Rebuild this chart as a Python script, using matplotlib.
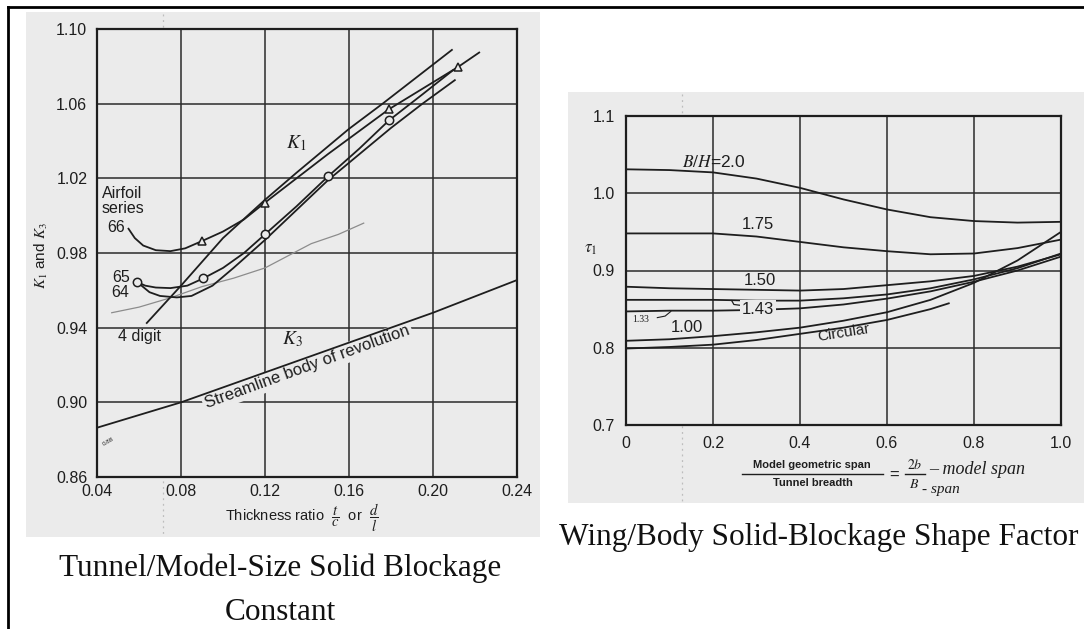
import numpy as np
import matplotlib
matplotlib.use("Agg")
import matplotlib.pyplot as plt
from matplotlib.patches import Rectangle
from matplotlib.lines import Line2D

W, H = 1084, 629
plt.rcParams['font.family'] = ['Liberation Sans', 'DejaVu Sans']
plt.rcParams['mathtext.fontset'] = 'stix'

INK = '#1e1e1e'
PAPER = '#ebebeb'

# ---------------- K1 / K3 versus thickness ratio ----------------
t66 = [0.055, 0.058, 0.062, 0.068, 0.075, 0.082, 0.090, 0.100, 0.110, 0.120, 0.135, 0.150, 0.179, 0.212, 0.222]
k66 = [0.993, 0.988, 0.984, 0.9815, 0.981, 0.9825, 0.9864, 0.9915, 0.998, 1.007, 1.020, 1.033, 1.057, 1.0797, 1.0874]
t66_mark = [0.090, 0.120, 0.179, 0.212]
k66_mark = [0.9864, 1.007, 1.057, 1.0797]

t65 = [0.059, 0.063, 0.068, 0.075, 0.083, 0.0906, 0.100, 0.110, 0.120, 0.135, 0.150, 0.165, 0.179, 0.195, 0.2096]
k65 = [0.9645, 0.9625, 0.9615, 0.9612, 0.9625, 0.9664, 0.972, 0.980, 0.990, 1.005, 1.021, 1.036, 1.051, 1.065, 1.078]
t65_mark = [0.059, 0.0906, 0.120, 0.150, 0.179]
k65_mark = [0.9645, 0.9664, 0.990, 1.021, 1.051]

t64 = [0.061, 0.065, 0.070, 0.078, 0.085, 0.095, 0.105, 0.120, 0.135, 0.150, 0.165, 0.180, 0.195, 0.2104]
k64 = [0.9627, 0.959, 0.957, 0.9562, 0.957, 0.9625, 0.972, 0.987, 1.003, 1.019, 1.033, 1.047, 1.060, 1.0726]

t4d = [0.0637, 0.080, 0.100, 0.120, 0.135, 0.160, 0.176, 0.209]
k4d = [0.9425, 0.9625, 0.988, 1.0085, 1.023, 1.0465, 1.060, 1.0888]

t_faint = [0.047, 0.060, 0.075, 0.090, 0.105, 0.120, 0.142, 0.155, 0.167]
k_faint = [0.948, 0.951, 0.956, 0.962, 0.9665, 0.972, 0.985, 0.990, 0.996]

t_k3 = [0.04, 0.08, 0.12, 0.16, 0.20, 0.24]
k3 = [0.8864, 0.900, 0.916, 0.932, 0.948, 0.9655]

xticks_left = [0.04, 0.08, 0.12, 0.16, 0.20, 0.24]
xlabels_left = ['0.04', '0.08', '0.12', '0.16', '0.20', '0.24']
yticks_left = [0.86, 0.90, 0.94, 0.98, 1.02, 1.06, 1.10]
ylabels_left = ['0.86', '0.90', '0.94', '0.98', '1.02', '1.06', '1.10']

# ---------------- tau_1 versus span ratio ----------------
span = [0.0, 0.1, 0.2, 0.3, 0.4, 0.5, 0.6, 0.7, 0.8, 0.9, 1.0]
tau_200 = [1.031, 1.030, 1.027, 1.019, 1.007, 0.992, 0.979, 0.969, 0.964, 0.962, 0.963]
tau_175 = [0.948, 0.948, 0.948, 0.944, 0.937, 0.930, 0.925, 0.921, 0.922, 0.929, 0.940]
tau_150 = [0.879, 0.877, 0.876, 0.875, 0.874, 0.876, 0.881, 0.886, 0.893, 0.905, 0.921]
tau_143 = [0.862, 0.862, 0.862, 0.861, 0.861, 0.864, 0.869, 0.877, 0.8885, 0.903, 0.922]
tau_133 = [0.847, 0.848, 0.848, 0.849, 0.851, 0.856, 0.8636, 0.873, 0.8855, 0.900, 0.918]
tau_100 = [0.809, 0.811, 0.815, 0.820, 0.826, 0.835, 0.846, 0.862, 0.884, 0.913, 0.950]
span_circ = [0.0, 0.1, 0.2, 0.3, 0.4, 0.5, 0.6, 0.7, 0.742]
tau_circ = [0.799, 0.801, 0.804, 0.810, 0.818, 0.826, 0.836, 0.850, 0.8575]

xticks_right = [0.0, 0.2, 0.4, 0.6, 0.8, 1.0]
xlabels_right = ['0', '0.2', '0.4', '0.6', '0.8', '1.0']
yticks_right = [0.7, 0.8, 0.9, 1.0, 1.1]
ylabels_right = ['0.7', '0.8', '0.9', '1.0', '1.1']


def rect(l, t, r, b):
    return [l / W, 1 - b / H, (r - l) / W, (b - t) / H]


def fx(px):
    return px / W


def fy(py):
    return 1 - py / H


fig = plt.figure(figsize=(W / 100, H / 100), dpi=100)
fig.patch.set_facecolor('white')

# scanned paper backgrounds
fig.add_artist(Rectangle((fx(26), fy(537)), (540 - 26) / W, (537 - 12) / H,
                         transform=fig.transFigure, fc=PAPER, ec='none', zorder=-10))
fig.add_artist(Rectangle((fx(568), fy(503)), (1084 - 568) / W, (503 - 92) / H,
                         transform=fig.transFigure, fc=PAPER, ec='none', zorder=-10))
# fold marks on the paper
for xp, y0, y1 in [(163, 14, 536), (682, 94, 502)]:
    fig.add_artist(Line2D([fx(xp), fx(xp)], [fy(y0), fy(y1)], transform=fig.transFigure,
                          color='#bdbdbd', lw=0.9, ls=(0, (1.5, 3)), zorder=-5))

# page frame
fig.add_artist(Line2D([fx(8), fx(1084)], [fy(7), fy(7)], transform=fig.transFigure,
                      color='black', lw=2.0, zorder=20))
fig.add_artist(Line2D([fx(8), fx(8)], [fy(7), fy(629)], transform=fig.transFigure,
                      color='black', lw=2.0, zorder=20))


def style_axes(ax, xt, xl, yt, yl, xpad, ypad):
    ax.set_facecolor(PAPER)
    ax.set_xticks(xt)
    ax.set_xticklabels(xl)
    ax.set_yticks(yt)
    ax.set_yticklabels(yl)
    ax.tick_params(axis='both', length=0, labelsize=11.5, colors=INK)
    ax.tick_params(axis='x', pad=xpad)
    ax.tick_params(axis='y', pad=ypad)
    ax.set_axisbelow(True)
    ax.grid(True, color='#2b2b2b', lw=1.1)
    for s in ax.spines.values():
        s.set_linewidth(1.6)
        s.set_color(INK)


# ================= left chart =================
axL = fig.add_axes(rect(97, 29, 517, 477))
axL.set_xlim(0.04, 0.24)
axL.set_ylim(0.86, 1.10)
style_axes(axL, xticks_left, xlabels_left, yticks_left, ylabels_left, 5, 7)

lw = 1.3
axL.plot(t_faint, k_faint, color='#8c8c8c', lw=0.9, zorder=2)
axL.plot(t4d, k4d, color=INK, lw=lw, zorder=2)
axL.plot(t64, k64, color=INK, lw=lw, zorder=2)
axL.plot(t65, k65, color=INK, lw=lw, zorder=2)
axL.plot(t66, k66, color=INK, lw=lw, zorder=2)
axL.plot(t66_mark, k66_mark, ls='none', marker='^', ms=6, mfc=PAPER, mec=INK, mew=1.1, zorder=5)
axL.plot(t65_mark, k65_mark, ls='none', marker='o', ms=6, mfc=PAPER, mec=INK, mew=1.1, zorder=5)
axL.plot(t_k3, k3, color=INK, lw=lw, zorder=4)

# label that runs along the body-of-revolution line
p0 = axL.transData.transform((t_k3[1], k3[1]))
p1 = axL.transData.transform((t_k3[-1], k3[-1]))
ang = np.degrees(np.arctan2(p1[1] - p0[1], p1[0] - p0[0]))
xm = 0.139
ym = np.interp(xm, t_k3, k3)
axL.text(xm, ym - 0.001, 'Streamline body of revolution', rotation=ang, rotation_mode='anchor',
         ha='center', va='top', fontsize=12, color=INK, zorder=3,
         bbox=dict(boxstyle='square,pad=0.15', fc=PAPER, ec='none'))

axL.text(0.135, 1.039, r'$K_1$', fontsize=14, color=INK, ha='center', va='center')
axL.text(0.133, 0.934, r'$K_3$', fontsize=14, color=INK, ha='center', va='center')
axL.text(0.0424, 1.0121, 'Airfoil', fontsize=11.5, color=INK, ha='left', va='center')
axL.text(0.0424, 1.0036, 'series', fontsize=11.5, color=INK, ha='left', va='center')
axL.text(0.0535, 0.9934, '66', fontsize=11.5, color=INK, ha='right', va='center')
axL.text(0.0555, 0.9671, '65', fontsize=11.5, color=INK, ha='right', va='center')
axL.text(0.0555, 0.9586, '64', fontsize=11.5, color=INK, ha='right', va='center')
axL.text(0.0502, 0.9352, '4 digit', fontsize=11.5, color=INK, ha='left', va='center')
axL.text(0.0425, 0.879, '0.88', fontsize=4.5, color=INK, rotation=30, ha='left', va='center')

fig.text(fx(41), fy(256), r'$K_1$ and $K_3$', rotation=90, fontsize=11, color=INK,
         ha='center', va='center')
fig.text(fx(302), fy(518), r'Thickness ratio  $\dfrac{t}{c}$  or  $\dfrac{d}{l}$', fontsize=10.5,
         color=INK, ha='center', va='center')

fig.text(fx(280), fy(568), 'Tunnel/Model-Size Solid Blockage', fontsize=22.5,
         family='Liberation Serif', color='#111111', ha='center', va='center')
fig.text(fx(280), fy(612), 'Constant', fontsize=22.5,
         family='Liberation Serif', color='#111111', ha='center', va='center')

# ================= right chart =================
axR = fig.add_axes(rect(626, 116, 1061, 425))
axR.set_xlim(0.0, 1.0)
axR.set_ylim(0.7, 1.1)
style_axes(axR, xticks_right, xlabels_right, yticks_right, ylabels_right, 8, 8)

for series in (tau_200, tau_175, tau_150, tau_143, tau_133, tau_100):
    axR.plot(span, series, color=INK, lw=lw, zorder=2)
axR.plot(span_circ, tau_circ, color=INK, lw=lw, zorder=2)

axR.text(0.128, 1.0404, r'$B/H$=2.0', fontsize=12.5, color=INK, ha='left', va='center')
axR.text(0.266, 0.9589, '1.75', fontsize=12, color=INK, ha='left', va='center')
axR.text(0.270, 0.8877, '1.50', fontsize=12, color=INK, ha='left', va='center')
axR.text(0.267, 0.850, '1.43', fontsize=12, color=INK, ha='left', va='center', zorder=3,
         bbox=dict(boxstyle='square,pad=0.1', fc=PAPER, ec='none'))
axR.text(0.102, 0.8256, '1.00', fontsize=12, color=INK, ha='left', va='center')
axR.text(0.015, 0.836, '1.33', fontsize=7, color=INK, ha='left', va='center',
         family='Liberation Serif')
axR.text(0.50, 0.819, 'Circular', fontsize=11, color=INK, ha='center', va='center', rotation=9)
axR.plot([0.243, 0.248, 0.262], [0.861, 0.856, 0.855], color=INK, lw=0.9)
axR.plot([0.072, 0.090, 0.103], [0.839, 0.841, 0.847], color=INK, lw=0.8)

fig.text(fx(591), fy(249), r'$\tau_1$', fontsize=12, color=INK, ha='center', va='center')

# x-axis caption built as a fraction
fig.text(fx(812), fy(465), 'Model geometric span', fontsize=8, weight='bold', color=INK,
         ha='center', va='center')
fig.text(fx(813), fy(483), 'Tunnel breadth', fontsize=8, weight='bold', color=INK,
         ha='center', va='center')
fig.add_artist(Line2D([fx(742), fx(883)], [fy(474), fy(474)], transform=fig.transFigure,
                      color=INK, lw=1.0))
fig.text(fx(894), fy(475), '=', fontsize=12, color=INK, ha='center', va='center')
fig.text(fx(915), fy(465), r'$2b$', fontsize=10, color=INK, ha='center', va='center')
fig.text(fx(914), fy(484), r'$B$', fontsize=10, color=INK, ha='center', va='center')
fig.add_artist(Line2D([fx(905), fx(925)], [fy(474), fy(474)], transform=fig.transFigure,
                      color=INK, lw=1.0))
fig.text(fx(929), fy(469), '\u2013 model span', fontsize=13, style='italic',
         family='Liberation Serif', color=INK, ha='left', va='center')
fig.text(fx(922), fy(490), '- span', fontsize=11, style='italic',
         family='Liberation Serif', color=INK, ha='left', va='center')

fig.text(fx(819), fy(537), 'Wing/Body Solid-Blockage Shape Factor', fontsize=22.5,
         family='Liberation Serif', color='#111111', ha='center', va='center')

fig.savefig('out.png', dpi=100, facecolor='white')
